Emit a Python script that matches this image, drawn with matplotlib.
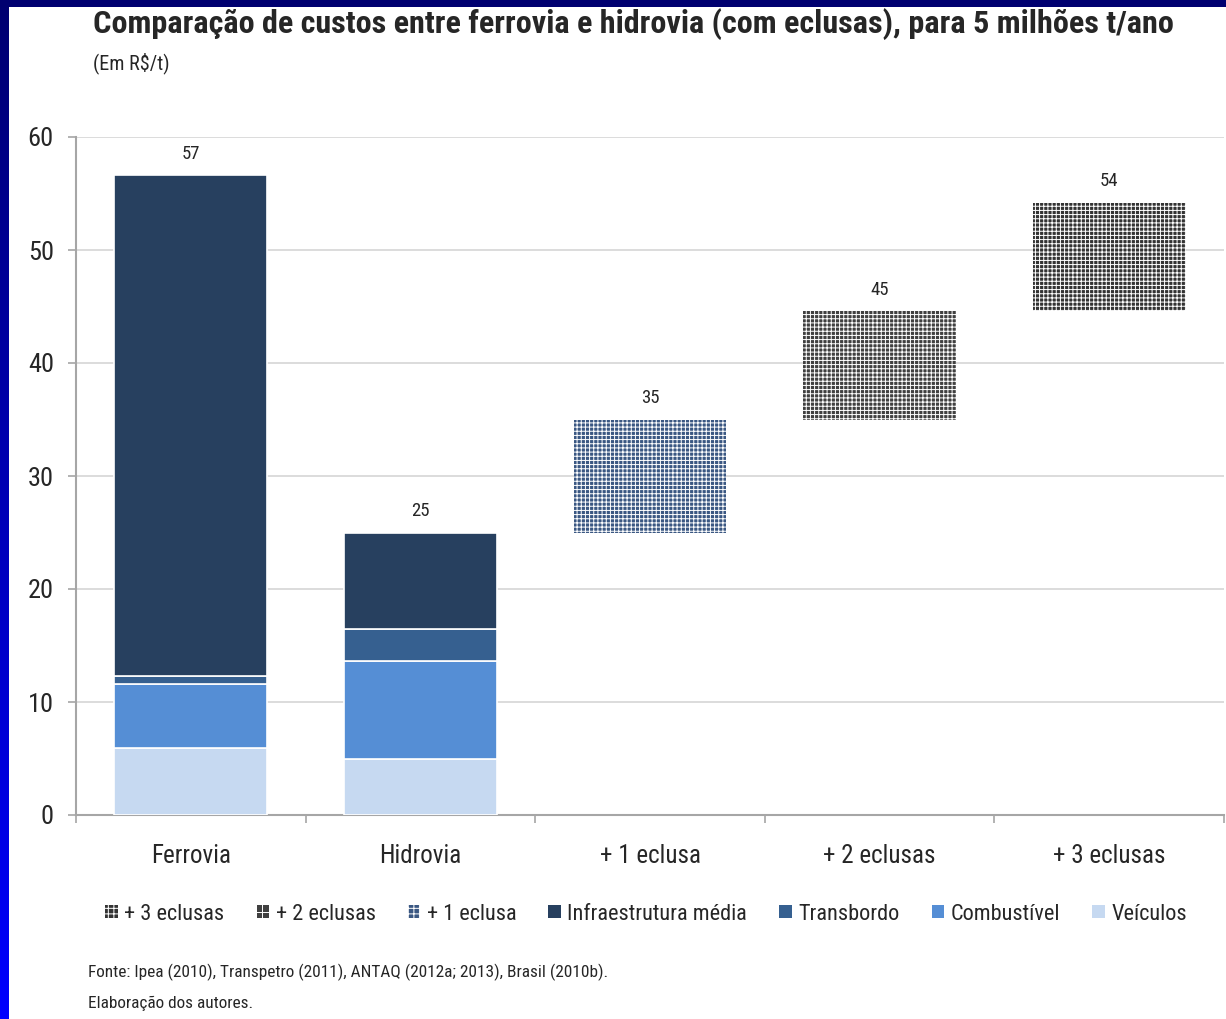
import numpy as np
import matplotlib
matplotlib.use("Agg")
import matplotlib.pyplot as plt
from matplotlib import font_manager as fm
from matplotlib.patches import Patch
from matplotlib.colors import LinearSegmentedColormap

categories = ["Ferrovia", "Hidrovia", "+ 1 eclusa", "+ 2 eclusas", "+ 3 eclusas"]

# stacked cost components (R$/t) for the two base modes
veiculos = [5.9, 5.0]
combustivel = [5.7, 8.6]
transbordo = [0.7, 2.9]
infraestrutura = [44.3, 8.5]

# cumulative waterway cost as locks are added
eclusa_tops = [35.0, 44.6, 54.2]

C_INFRA = "#27405f"
C_TRANS = "#366090"
C_COMB = "#558ed5"
C_VEIC = "#c6d9f1"
C_ECL = ["#3a5782", "#404040", "#333333"]
HATCH = "++++"

INK = "#262626"
AXIS = "#a6a6a6"
GRID = "#d9d9d9"

# narrowest sans family that is installed
names = {f.name for f in fm.fontManager.ttflist}
FONT = next(n for n in ["Liberation Sans Narrow", "Roboto Condensed",
                        "Open Sans Condensed", "Roboto", "DejaVu Sans"]
            if n in names)

plt.rcParams.update({
    "font.family": [FONT, "DejaVu Sans"],
    "hatch.linewidth": 0.7,
    "text.color": INK,
})

fig = plt.figure(figsize=(12.26, 10.19), dpi=100)
ax = fig.add_axes([76 / 1226, 1 - 815 / 1019, 1148 / 1226, 678 / 1019])

x = np.arange(len(categories))
w = 0.665

# base modes: stacked components
bottom = np.zeros(2)
for vals, color in [(veiculos, C_VEIC), (combustivel, C_COMB),
                    (transbordo, C_TRANS), (infraestrutura, C_INFRA)]:
    ax.bar(x[:2], vals, w, bottom=bottom, color=color, edgecolor="white",
           linewidth=1.2, zorder=3)
    bottom = bottom + np.array(vals)
totals = bottom

# locks: floating bars starting from the previous total
prev = totals[1]
for i, top in enumerate(eclusa_tops):
    ax.bar(x[2 + i], top - prev, w, bottom=prev, color=C_ECL[i],
           edgecolor="white", hatch=HATCH, linewidth=0, zorder=3)
    prev = top

# value labels
for xi, v in zip(x, list(totals) + eclusa_tops):
    ax.annotate(f"{v:.0f}", (xi, v), xytext=(0, 9), textcoords="offset points",
                ha="center", va="bottom", fontsize=13.5, color=INK)

ax.set_xlim(-0.5, 4.5)
ax.set_ylim(0, 60)
ax.set_yticks(range(0, 61, 10))
ax.tick_params(axis="y", length=6, width=1.2, color=AXIS, labelsize=19,
               labelcolor=INK, pad=10)
ax.set_xticks(np.arange(-0.5, 4.6, 1))
ax.set_xticklabels([])
ax.set_xticks(x, minor=True)
ax.set_xticklabels(categories, minor=True)
ax.tick_params(axis="x", which="major", length=6, width=1.2, color=AXIS)
ax.tick_params(axis="x", which="minor", length=0, labelsize=18,
               labelcolor=INK, pad=21)
ax.grid(axis="y", color=GRID, lw=1.3, zorder=0)
ax.set_axisbelow(True)
for s in ("top", "right"):
    ax.spines[s].set_visible(False)
for s in ("left", "bottom"):
    ax.spines[s].set_color(AXIS)
    ax.spines[s].set_linewidth(1.5)

# legend in one row under the axis
handles = [
    Patch(facecolor=C_ECL[2], edgecolor="white", hatch="+++", lw=0, label="+ 3 eclusas"),
    Patch(facecolor=C_ECL[1], edgecolor="white", hatch="++", lw=0, label="+ 2 eclusas"),
    Patch(facecolor=C_ECL[0], edgecolor="white", hatch="+++", lw=0, label="+ 1 eclusa"),
    Patch(facecolor=C_INFRA, label="Infraestrutura média"),
    Patch(facecolor=C_TRANS, label="Transbordo"),
    Patch(facecolor=C_COMB, label="Combustível"),
    Patch(facecolor=C_VEIC, label="Veículos"),
]
fig.legend(handles=handles, loc="center", bbox_to_anchor=(0.527, 1 - 914 / 1019),
           ncol=7, frameon=False, fontsize=16, handlelength=0.55,
           handleheight=0.55, handletextpad=0.3, columnspacing=1.45)

# titles and notes
title = fig.text(93 / 1226, 1 - 24 / 1019, "Comparação de custos entre ferrovia e "
                 "hidrovia (com eclusas), para 5 milhões t/ano", fontsize=20,
                 fontweight="bold", va="center", ha="left", color=INK)
# size the heading so it runs across to the right edge of the plot
fig.canvas.draw()
width_px = title.get_window_extent().width
title.set_fontsize(20 * 1080 / width_px)

fig.text(93 / 1226, 1 - 63 / 1019, "(Em R$/t)", fontsize=14.5, va="center",
         ha="left", color=INK)
fig.text(88 / 1226, 1 - 972 / 1019, "Fonte: Ipea (2010), Transpetro (2011), "
         "ANTAQ (2012a; 2013), Brasil (2010b).", fontsize=12.4, va="center",
         ha="left", color=INK)
fig.text(88 / 1226, 1 - 1003 / 1019, "Elaboração dos autores.", fontsize=12.4,
         va="center", ha="left", color=INK)

# slide frame: navy top band, blue gradient down the left edge
frame = LinearSegmentedColormap.from_list("frame", ["#000070", "#0000ff"])
lax = fig.add_axes([0, 0, 9 / 1226, 1])
lax.imshow(np.linspace(0, 1, 256)[:, None], cmap=frame, aspect="auto")
lax.axis("off")
tax = fig.add_axes([0, 1 - 7 / 1019, 1, 7 / 1019])
tax.set_facecolor("#000070")
tax.set_xticks([])
tax.set_yticks([])
for s in tax.spines.values():
    s.set_visible(False)

fig.savefig("out.png", dpi=100)
